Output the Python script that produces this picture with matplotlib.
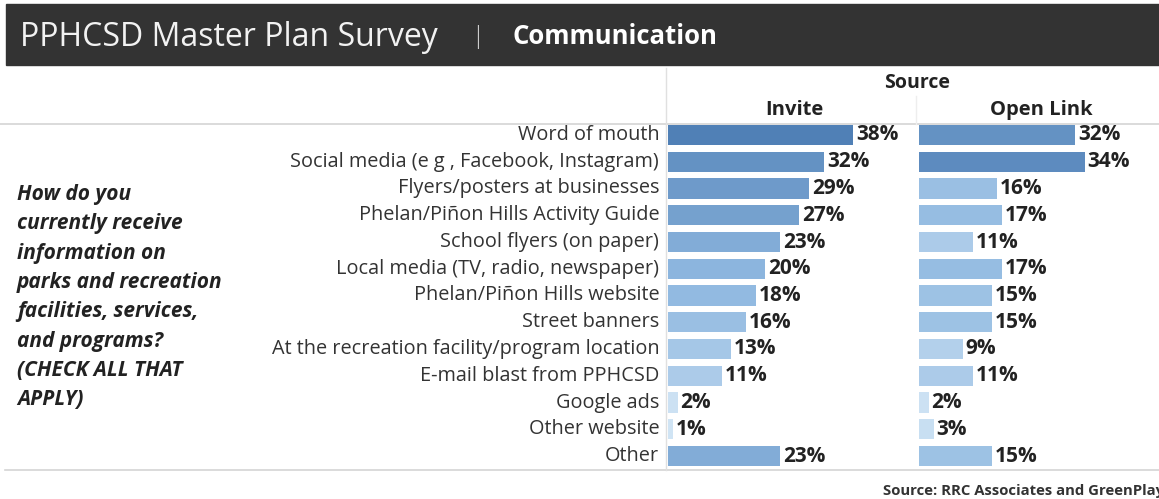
import numpy as np
import matplotlib
matplotlib.use('Agg')
import matplotlib.pyplot as plt
from matplotlib.colors import LinearSegmentedColormap

plt.rcParams['font.family'] = ['Open Sans', 'DejaVu Sans']

categories = ['Word of mouth', 'Social media (e g , Facebook, Instagram)',
              'Flyers/posters at businesses', 'Phelan/Piñon Hills Activity Guide',
              'School flyers (on paper)', 'Local media (TV, radio, newspaper)',
              'Phelan/Piñon Hills website', 'Street banners',
              'At the recreation facility/program location', 'E-mail blast from PPHCSD',
              'Google ads', 'Other website', 'Other']
invite = [38, 32, 29, 27, 23, 20, 18, 16, 13, 11, 2, 1, 23]
open_link = [32, 34, 16, 17, 11, 17, 15, 15, 9, 11, 2, 3, 15]
panels = ['Invite', 'Open Link']
question = ('How do you\ncurrently receive\ninformation on\nparks and recreation\n'
            'facilities, services,\nand programs?\n(CHECK ALL THAT\nAPPLY)')

W, H = 1159, 499
fig = plt.figure(figsize=(W / 100, H / 100), dpi=100)

def fx(px):
    return px / W

def fy(py):
    return 1 - py / H

cmap = LinearSegmentedColormap.from_list('tb', ['#d3e6f5', '#8fb8e0', '#5080b6'])

# header band
fig.patches.append(plt.Rectangle((fx(6), fy(65)), fx(W - 6), (65 - 4) / H,
                                 transform=fig.transFigure, color='#333333', zorder=0))
fig.text(fx(20), fy(37), 'PPHCSD Master Plan Survey', color='#f2f2f2', fontsize=23,
         va='center', ha='left')
fig.text(fx(478), fy(37), '|', color='#cccccc', fontsize=17, va='center', ha='center',
         fontweight='light')
fig.text(fx(513), fy(37), 'Communication', color='white', fontsize=18.5,
         fontweight='bold', va='center', ha='left')

# grid lines
fig.add_artist(plt.Line2D([fx(0), fx(W)], [fy(124), fy(124)], color='#d4d4d4', lw=1.2))
fig.add_artist(plt.Line2D([fx(5), fx(W)], [fy(470), fy(470)], color='#d4d4d4', lw=1.2))
fig.add_artist(plt.Line2D([fx(666), fx(666)], [fy(68), fy(470)], color='#e0e0e0', lw=1))
fig.add_artist(plt.Line2D([fx(916), fx(916)], [fy(96), fy(124)], color='#eeeeee', lw=1))

fig.text(fx(917), fy(83), 'Source', fontsize=14, fontweight='bold', ha='center',
         va='center', color='#222222')

n = len(categories)
y = np.arange(n)
row0, step = 135, 26.75
ytop = (124 - row0) / step
ybot = (470 - row0) / step
pxper = 4.87

bounds = [(668, 916), (919, 1159)]
for (x0, x1), name, vals in zip(bounds, panels, [invite, open_link]):
    ax = fig.add_axes([fx(x0), fy(470), fx(x1 - x0), (470 - 124) / H])
    ax.barh(y, vals, height=0.76, color=cmap(np.array(vals) / 38))
    ax.set_xlim(0, (x1 - x0) / pxper)
    ax.set_ylim(ybot, ytop)
    ax.axis('off')
    for yi, v in zip(y, vals):
        ax.text(v + 0.6, yi, f'{v}%', va='center', ha='left', fontsize=15,
                fontweight='bold', color='#222222')
    fig.text(fx((x0 + x1) / 2 + 2), fy(110), name, fontsize=14.5, fontweight='bold',
             ha='center', va='center', color='#222222')
    if name == 'Invite':
        for yi, c in zip(y, categories):
            ax.text(-1.8, yi, c, ha='right', va='center', fontsize=14.3,
                    color='#333333', clip_on=False)

fig.text(fx(17), fy(184), question, fontsize=15, fontweight='bold', style='italic',
         ha='left', va='top', color='#222222', linespacing=1.52)

fig.text(fx(883), fy(491), 'Source: RRC Associates and GreenPlay', fontsize=10.7,
         fontweight='bold', ha='left', va='center', color='#333333')

fig.savefig('out.png', dpi=100)
